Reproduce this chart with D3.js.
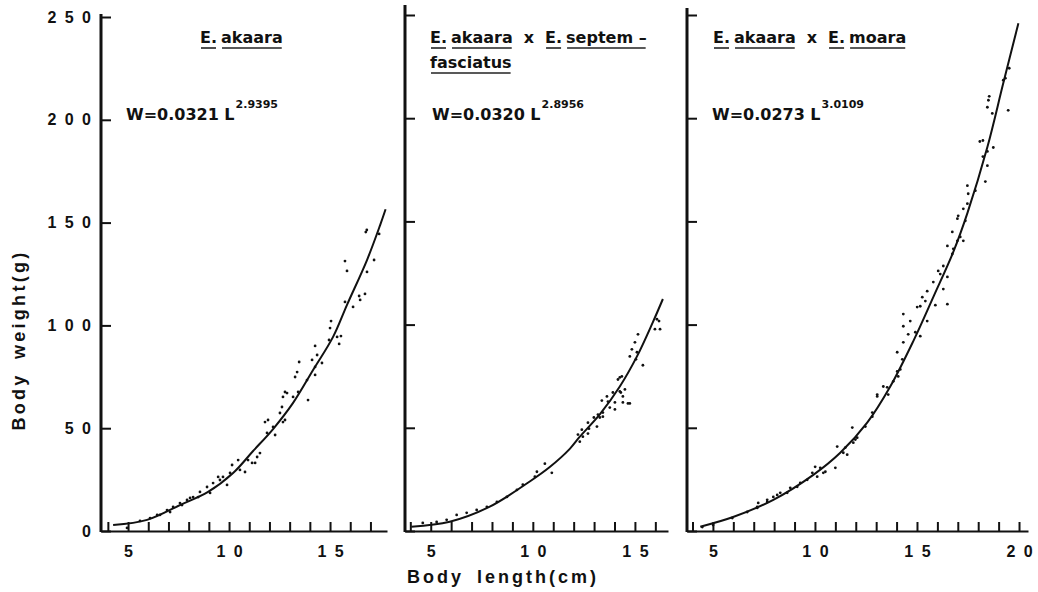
<!DOCTYPE html>
<html>
<head>
<meta charset="utf-8">
<script src="https://cdn.jsdelivr.net/npm/d3@7"></script>
<style>
  body { margin: 0; background: #fff; }
  text { font-family: 'Liberation Sans', Arial, sans-serif; font-weight: bold; fill: #111; }
  .titulo, .formula { font-family: 'DejaVu Sans', sans-serif; font-size: 16px; }
</style>
</head>
<body>
<div id="graf"></div>
<script>
// ---- datos ----
const yTicks = [0, 50, 100, 150, 200, 250]
const xLabels = [5, 10, 15, 20]
const xTicks1 = [4, 5, 6, 7, 8, 9, 10, 11, 12, 13, 14, 15, 16, 17]
const xTicks2 = [4, 5, 6, 7, 8, 9, 10, 11, 12, 13, 14, 15, 16]
const xTicks3 = [4, 5, 6, 7, 8, 9, 10, 11, 12, 13, 14, 15, 16, 17, 18, 19, 20]

const titulo1 = [['E.', 'akaara']]
const titulo2 = [['E.', 'akaara', 'x', 'E.', 'septem –'], ['fasciatus']]
const titulo3 = [['E.', 'akaara', 'x', 'E.', 'moara']]
const coefA = ['0.0321', '0.0320', '0.0273']
const expB = ['2.9395', '2.8956', '3.0109']

// curvas ajustadas (L cm, W g)
const curva1 = [[4.26, 2.9], [5.94, 5.4], [7.57, 12.6], [8.96, 19.0], [10.2, 28.2], [11.19, 38.9], [12.18, 49.6],
  [13.17, 62.3], [14.16, 78.3], [15.15, 94.4], [15.84, 110.0], [16.83, 131.8], [17.48, 148.8], [17.75, 156.5]]
const curva2 = [[4.05, 2.1], [5.93, 4.5], [7.89, 11.8], [9.85, 24.0], [10.83, 31.0], [11.81, 39.8], [12.30, 45.7],
  [13.28, 56.5], [14.26, 70.0], [15.10, 84.6], [15.88, 101.2], [16.37, 112.4]]
const curva3 = [[4.38, 2.1], [5.99, 6.8], [7.96, 15.1], [9.92, 27.2], [11.24, 37.9], [12.56, 52.5], [13.69, 70.0],
  [14.82, 92.0], [15.82, 113.8], [16.78, 135.2], [17.47, 154.0], [18.45, 186.0], [19.23, 217.0], [19.97, 246.0]]

// puntos observados (L cm, W g)
const puntos1 = [[16.82, 146.4], [16.77, 145.4], [17.43, 144.5], [15.74, 131.3], [17.18, 131.8], [15.84, 126.5],
  [16.83, 126.0], [16.44, 114.3], [16.73, 115.3], [16.49, 112.4], [16.14, 109.0], [15.74, 111.4], [15.05, 102.1],
  [15.00, 98.7], [15.35, 94.4], [15.54, 94.8], [15.45, 91.0], [14.95, 92.9], [14.26, 90.0], [14.36, 85.6],
  [13.47, 82.2], [14.60, 81.7], [14.26, 79.8], [14.11, 83.2], [14.26, 75.9], [13.86, 73.4], [13.37, 77.3],
  [13.27, 74.9], [13.91, 63.7], [13.42, 67.6], [13.17, 65.2], [12.77, 67.6], [12.67, 65.2], [12.62, 60.3],
  [12.77, 54.0], [12.52, 57.4], [11.93, 54.0], [12.18, 50.6], [11.88, 47.7], [12.28, 46.7], [11.39, 36.0],
  [11.53, 37.9], [10.94, 34.5], [11.29, 33.1], [10.45, 34.5], [10.15, 32.1], [10.54, 29.7], [10.05, 28.2],
  [9.70, 26.3], [9.55, 24.8], [9.21, 23.3], [9.46, 26.3], [8.91, 21.4], [9.06, 18.5], [8.56, 19.0], [8.22, 16.5],
  [7.92, 15.1], [7.57, 13.6], [7.23, 11.7], [6.93, 10.2], [6.44, 7.8], [6.09, 6.3], [5.59, 4.9], [4.95, 1.5],
  [12.87, 67.1], [12.67, 53.0], [11.78, 53.0], [11.14, 33.1], [10.79, 28.7], [9.90, 22.4], [8.47, 16.5],
  [8.07, 16.1], [7.67, 12.6], [7.08, 9.2], [6.58, 7.8]]
const puntos2 = [[16.18, 101.7], [15.98, 97.8], [15.15, 95.3], [15.00, 91.4], [14.85, 88.0], [14.75, 84.6],
  [15.10, 86.6], [15.05, 83.2], [15.39, 80.3], [14.26, 74.4], [14.17, 73.4], [14.51, 68.6], [14.31, 67.1],
  [13.92, 67.1], [13.63, 65.2], [13.38, 63.2], [13.68, 62.7], [14.02, 62.3], [14.41, 62.3], [14.75, 61.8],
  [14.02, 58.9], [13.77, 59.8], [13.43, 57.4], [13.19, 56.4], [12.99, 55.0], [13.28, 55.0], [13.43, 55.4],
  [12.70, 52.5], [13.14, 50.6], [12.40, 49.1], [12.75, 49.6], [12.21, 46.7], [12.45, 45.7], [12.30, 43.3],
  [12.70, 47.2], [10.59, 32.6], [10.20, 28.7], [10.93, 28.2], [10.10, 26.3], [9.51, 22.4], [9.22, 19.9],
  [8.73, 16.5], [8.24, 14.1], [7.75, 11.7], [7.25, 10.2], [6.76, 8.8], [6.27, 7.8], [5.78, 5.4], [5.29, 4.4],
  [4.61, 3.9], [16.08, 102.6], [16.23, 97.8], [14.66, 61.8], [14.41, 65.2], [14.26, 67.6], [14.36, 74.9]]
const puntos3 = [[19.52, 224.2], [19.23, 218.4], [19.33, 219.4], [18.54, 210.6], [18.50, 208.7], [18.45, 205.3],
  [18.69, 202.3], [19.47, 203.8], [18.23, 189.2], [18.08, 188.7], [18.74, 185.8], [18.45, 183.9], [18.23, 181.4],
  [18.45, 177.0], [18.35, 169.3], [17.47, 167.3], [17.86, 164.9], [17.51, 163.4], [17.47, 158.6], [17.27, 156.1],
  [17.02, 152.7], [16.98, 151.3], [17.37, 150.3], [16.73, 144.9], [17.12, 142.5], [17.27, 140.6], [16.98, 140.6],
  [16.49, 138.1], [16.78, 136.7], [16.73, 134.2], [16.29, 128.4], [16.04, 126.0], [16.14, 124.5], [16.49, 123.1],
  [15.80, 120.6], [16.29, 117.2], [15.50, 116.2], [15.26, 113.3], [15.41, 111.4], [15.90, 109.4], [16.49, 109.9],
  [15.01, 108.5], [15.50, 101.7], [14.33, 105.1], [14.67, 101.7], [14.33, 99.2], [14.57, 95.3], [15.16, 94.4],
  [14.33, 91.4], [14.92, 96.3], [14.03, 86.6], [14.28, 83.2], [14.03, 77.3], [13.84, 72.5], [13.54, 69.6],
  [15.16, 108.9], [14.18, 78.3], [14.08, 74.9], [13.59, 66.1], [13.35, 70.0], [13.05, 65.2], [12.81, 57.4],
  [12.47, 50.6], [11.83, 50.1], [11.98, 44.3], [11.58, 37.0], [11.39, 37.9], [11.09, 40.9], [11.00, 30.6],
  [10.41, 28.2], [10.26, 30.6], [10.01, 31.1], [9.87, 28.2], [9.62, 24.8], [9.28, 23.3], [8.79, 20.9],
  [8.30, 18.5], [7.96, 16.5], [7.66, 15.1], [7.22, 13.6], [7.17, 11.2], [6.68, 9.2], [5.95, 6.3], [5.01, 2.9],
  [4.48, 1.9], [13.05, 66.1], [12.81, 55.4], [12.07, 45.2], [11.88, 42.8], [11.49, 40.4], [10.51, 28.7],
  [10.11, 26.3], [9.13, 21.4], [8.64, 18.5], [8.15, 17.5], [7.66, 14.1], [7.17, 11.7]]

// ---- layout ----
const anchoTotal = 1038
const altoTotal = 592
const base = 531

const svg = d3.select('#graf')
  .append('svg')
  .attr('width', anchoTotal)
  .attr('height', altoTotal)

const paneles = [
  { x0: 101, x1: 387, dominio: [3.66, 17.82], yTop: 17, ejeTop: 14, ticks: xTicks1, curva: curva1, puntos: puntos1, titulo: titulo1, tx: 200, fx: 126, etiquetasY: true },
  { x0: 405, x1: 668, dominio: [3.74, 16.62], yTop: 15, ejeTop: 5, ticks: xTicks2, curva: curva2, puntos: puntos2, titulo: titulo2, tx: 430, fx: 432, etiquetasY: false },
  { x0: 687, x1: 1028, dominio: [3.73, 20.44], yTop: 15, ejeTop: 8, ticks: xTicks3, curva: curva3, puntos: puntos3, titulo: titulo3, tx: 713, fx: 712, etiquetasY: false },
]

// numeros con espacio entre cifras, como en el original
const espaciado = d => String(d).split('').join(' ')

function dibujarTitulo(g, lineas, x, y) {
  lineas.forEach((palabras, i) => {
    let cx = x
    const by = y + i * 25
    palabras.forEach((p, j) => {
      const t = g.append('text').attr('class', 'titulo').attr('x', cx).attr('y', by).text(p)
      const w = t.node().getComputedTextLength()
      if (p !== 'x') {
        g.append('line')
          .attr('x1', cx + 1).attr('x2', cx + w - 1)
          .attr('y1', by + 5).attr('y2', by + 5)
          .attr('stroke', '#222').attr('stroke-width', 1.6)
      }
      const sig = palabras[j + 1]
      cx += w + ((p === 'x' || sig === 'x') ? 11 : 4)
    })
  })
}

paneles.forEach((p, i) => {
  const g = svg.append('g')

  const x = d3.scaleLinear().domain(p.dominio).range([p.x0, p.x1])
  const y = d3.scaleLinear().domain([0, 250]).range([base, p.yTop])

  // eje y
  const ejeY = g.append('g')
    .attr('transform', `translate(${p.x0},0)`)
    .call(d3.axisLeft(y)
      .tickValues(yTicks)
      .tickSize(-10)
      .tickSizeOuter(0)
      .tickPadding(10)
      .tickFormat(d => p.etiquetasY ? espaciado(d) : ''))
  ejeY.select('.domain').remove()
  ejeY.attr('font-family', null).attr('font-size', 16)
  ejeY.selectAll('line').attr('stroke', '#111').attr('stroke-width', 2)
  ejeY.selectAll('text').attr('word-spacing', 4).attr('fill', '#111')
  g.append('line')
    .attr('x1', p.x0).attr('x2', p.x0)
    .attr('y1', p.ejeTop).attr('y2', base + 1)
    .attr('stroke', '#111').attr('stroke-width', 3)

  // eje x
  const ejeX = g.append('g')
    .attr('transform', `translate(0,${base})`)
    .call(d3.axisBottom(x)
      .tickValues(p.ticks)
      .tickSize(-9)
      .tickSizeOuter(0)
      .tickPadding(15)
      .tickFormat(d => xLabels.includes(d) ? espaciado(d) : ''))
  ejeX.attr('font-family', null).attr('font-size', 16)
  ejeX.select('.domain').attr('stroke', '#111').attr('stroke-width', 2)
  ejeX.selectAll('line').attr('stroke', '#111').attr('stroke-width', 2)
  ejeX.selectAll('text').attr('word-spacing', 4).attr('fill', '#111')

  // puntos
  g.selectAll('circle.pt')
    .data(p.puntos)
    .enter()
    .append('circle')
    .attr('class', 'pt')
    .attr('cx', d => x(d[0]))
    .attr('cy', d => y(d[1]))
    .attr('r', 1.4)
    .attr('fill', '#111')

  // curva
  const linea = d3.line()
    .x(d => x(d[0]))
    .y(d => y(d[1]))
    .curve(d3.curveCatmullRom.alpha(0.5))
  g.append('path')
    .datum(p.curva)
    .attr('d', linea)
    .attr('fill', 'none')
    .attr('stroke', '#111')
    .attr('stroke-width', 2)

  // titulo y formula
  dibujarTitulo(g, p.titulo, p.tx, 43)
  const f = g.append('text').attr('class', 'formula').attr('x', p.fx).attr('y', 120)
  f.append('tspan').text(`W=${coefA[i]} L`)
  f.append('tspan').attr('dy', -12).attr('dx', 1).attr('font-size', 11).text(expB[i])
})

// titulos de ejes
svg.append('text')
  .attr('transform', 'translate(25,340) rotate(-90)')
  .attr('text-anchor', 'middle')
  .attr('font-size', 18)
  .attr('letter-spacing', 3.3)
  .attr('word-spacing', 5)
  .text('Body weight(g)')

svg.append('text')
  .attr('x', 407)
  .attr('y', 583)
  .attr('font-size', 18)
  .attr('letter-spacing', 3)
  .attr('word-spacing', 5)
  .text('Body length(cm)')
</script>
</body>
</html>
